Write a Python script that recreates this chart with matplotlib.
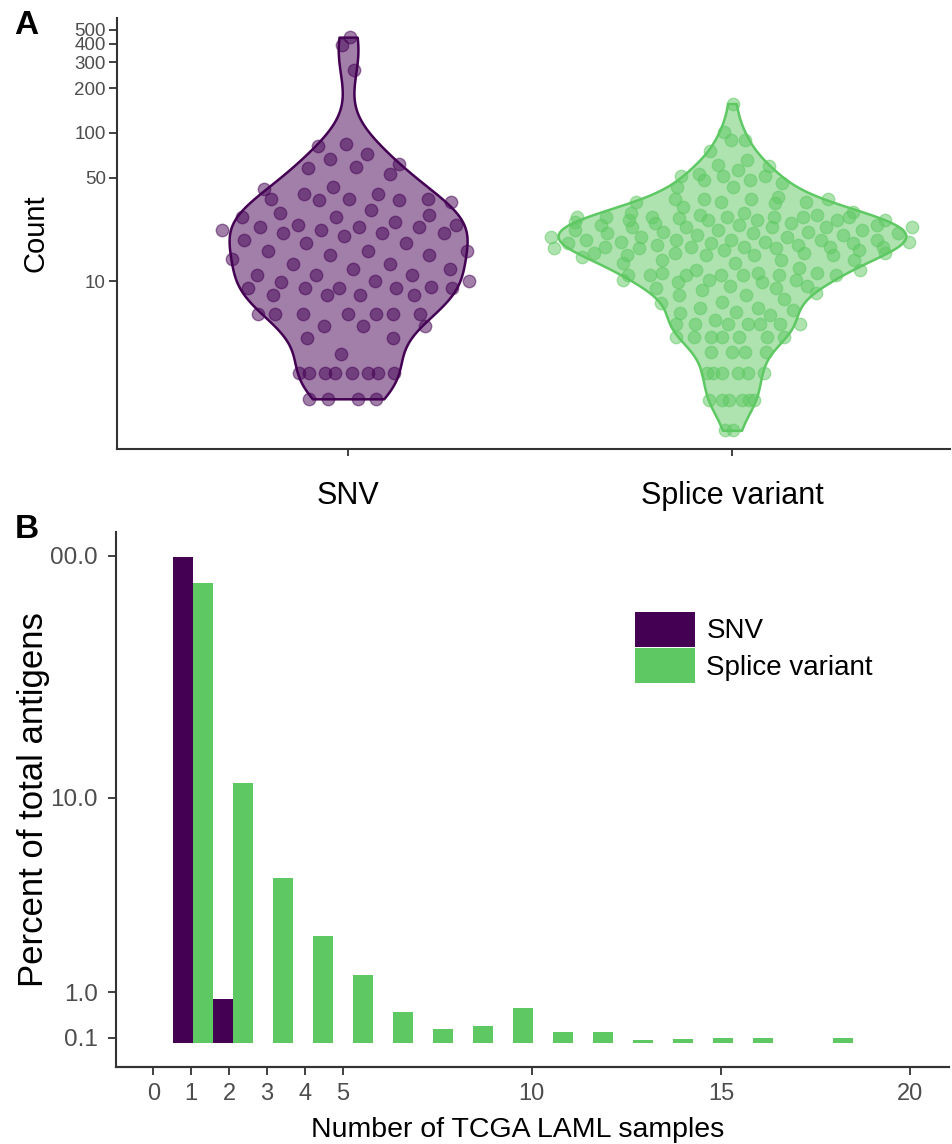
import numpy as np
import matplotlib
matplotlib.use('Agg')
import matplotlib.pyplot as plt
from matplotlib.colors import to_rgba
from matplotlib.patches import Patch
from matplotlib.ticker import NullLocator

plt.rcParams['font.family'] = ['Liberation Sans', 'DejaVu Sans']

# ---- panel A data: antigen counts per variant class
groups = ['SNV', 'Splice variant']
snv_counts = [444, 393, 267, 84, 82, 72, 67, 62, 59, 58, 53, 43, 42,
              39, 39, 36, 36, 36, 35, 35, 34, 30, 29, 28, 27, 27, 25, 24, 24,
              23, 23, 23, 22, 22, 21, 21, 21, 20, 19, 18, 18,
              16, 16, 16, 15, 15, 14, 13, 13, 12, 12,
              11, 11, 11, 10, 10, 9.9, 9.1, 9, 9, 9, 9, 8.9, 8, 8, 8, 8,
              6, 6, 6, 6, 6, 6, 6, 5, 5, 5, 4.1, 4.1, 3.2,
              2.4, 2.4, 2.4, 2.4, 2.4, 2.4, 2.4, 2.4, 1.6, 1.6, 1.6, 1.6]
splice_counts = [158, 102, 90, 90, 76, 66, 61, 60, 56, 53, 51, 51, 51, 48, 48,
                 46, 43, 43, 37, 36, 36, 36, 36, 34, 34, 34, 33.5, 31.8,
                 29.4, 28.7, 28.7, 27.9, 27.9, 27.2, 27.2, 27.2, 27.2, 27.2,
                 27.2, 27, 26.5, 26, 26, 25.8, 25.8, 25.8, 25, 24.5, 24.5,
                 23.9, 23.9, 23.9, 23.3, 23.3, 23.3, 23.3, 23.3, 22.1, 22.1,
                 22, 21.5, 21.5, 21, 21, 21, 20.5, 20.5, 19.9, 19.9, 19.9,
                 19, 18.9, 18.9, 18.9, 18.9, 18.4, 18.4, 18.4, 18, 18, 18,
                 17.5, 17.5, 17.1, 17.1, 17.1, 17.1, 17.1, 16.6, 16.6, 16.6,
                 16.2, 16.2, 15.4, 15.4, 15.4, 15.4, 15, 15, 15, 15, 14.6,
                 13.9, 13.9, 13.9, 13.2, 13.2, 12.2, 11.9, 11.9, 11.3, 11.3,
                 11.3, 11, 11, 11, 11, 11, 11, 11, 10.2, 10.2, 10.2, 9.9, 9.9,
                 9.2, 9.2, 8.9, 8.9, 8.7, 8.3, 8, 8, 7.5, 7.2, 7.1, 6.6, 6.6,
                 6.4, 6.2, 6.05, 5.9, 5.45,
                 5.1, 5.1, 5.1, 5.1, 5.1, 5.1, 5.1,
                 4.2, 4.2, 4.2, 4.2, 4.2, 4.2, 4.2, 3.3, 3.3, 3.3, 3.3,
                 2.38, 2.38, 2.38, 2.38, 2.38, 2.38,
                 1.57, 1.57, 1.57, 1.57, 1.57, 1.57, 0.98, 0.98]
count_ticks = [10, 50, 100, 200, 300, 400, 500]

# ---- panel B data: percent of antigens shared by n TCGA LAML samples
snv_samples = [1, 2]
snv_pct = [98.4, 0.72]
splice_samples = [1, 2, 3, 4, 5, 6, 7, 8, 9, 10, 11, 12, 13, 14, 15, 17]
splice_pct = [77.3, 11.5, 3.88, 1.95, 1.22, 0.365, 0.155, 0.18, 0.46,
              0.135, 0.135, 0.09, 0.094, 0.099, 0.099, 0.099]
pct_ticks = [0.1, 1, 10, 100]
pct_labels = ['0.1', '1.0', '10.0', '00.0']
sample_ticks = [0, 1, 2, 3, 4, 5, 10, 15, 20]

PURPLE = '#440154'
GREEN = '#5ec962'
AXC = '#333333'
TXT = '#4d4d4d'

fig = plt.figure(figsize=(9.53, 11.44), dpi=100)
W, H = 953, 1144


def box(l, t, r, b):
    return [l / W, 1 - b / H, (r - l) / W, (b - t) / H]


def kde(vals, n=512):
    lv = np.log10(np.asarray(vals, float))
    sd = lv.std(ddof=1)
    iqr = np.subtract(*np.percentile(lv, [75, 25]))
    bw = 0.9 * min(sd, iqr / 1.34) * len(lv) ** -0.2
    grid = np.linspace(lv.min(), lv.max(), n)
    d = np.exp(-0.5 * ((grid[:, None] - lv[None, :]) / bw) ** 2).sum(1)
    return grid, d / (len(lv) * bw * np.sqrt(2 * np.pi))


# ================= panel A =================
ax = fig.add_axes(box(117, 18, 950, 449))
data = [snv_counts, splice_counts]
cols = [PURPLE, GREEN]
max_half = [0.31, 0.453]
for i, (vals, c, mh) in enumerate(zip(data, cols, max_half)):
    g, d = kde(vals)
    half = mh * d / d.max()
    ax.fill_betweenx(10 ** g, i - half, i + half, facecolor=to_rgba(c, 0.5),
                     edgecolor=c, lw=1.8, zorder=2)
    # sina-like spread: jitter limited by the violin width at each value
    k = np.arange(1, len(vals) + 1)
    u = ((k * 0.6180339887) % 1) * 2 - 1
    w = np.interp(np.log10(vals), g, half)
    ax.scatter(i + u * w * 1.1, vals, s=80, color=c, alpha=0.5,
               edgecolor=c, lw=1, zorder=3)

ax.set_yscale('log')
ax.set_ylim(0.733, 598)
ax.set_xlim(-0.602, 1.568)
ax.set_yticks(count_ticks)
ax.set_yticklabels([str(t) for t in count_ticks])
ax.yaxis.set_minor_locator(NullLocator())
ax.set_xticks([0, 1])
ax.set_xticklabels(groups, fontsize=22, color='black')
ax.tick_params(axis='y', labelsize=13.5, labelcolor=TXT, length=6, width=1.3,
               color=AXC, pad=2)
ax.tick_params(axis='x', length=5, width=1.3, color=AXC, pad=18)
ax.set_ylabel('Count', fontsize=21)
ax.yaxis.set_label_coords(-0.081, 0.5)
for s in ['top', 'right']:
    ax.spines[s].set_visible(False)
for s in ['left', 'bottom']:
    ax.spines[s].set_color(AXC)
    ax.spines[s].set_linewidth(1.5)

# ================= panel B =================
# y axis: stretched log scale following the reference tick spacing
LOGS = np.array([-1.0, 0.0, 1.0, 2.0])
POS = np.array([0.0, 45.7, 240.3, 482.3])
S_LO = (POS[1] - POS[0]) / (LOGS[1] - LOGS[0])
S_HI = (POS[3] - POS[2]) / (LOGS[3] - LOGS[2])


def fwd(v):
    l = np.log10(np.clip(np.asarray(v, float), 1e-9, None))
    out = np.interp(l, LOGS, POS)
    out = np.where(l < LOGS[0], POS[0] + (l - LOGS[0]) * S_LO, out)
    out = np.where(l > LOGS[-1], POS[-1] + (l - LOGS[-1]) * S_HI, out)
    return out


def inv(p):
    p = np.asarray(p, float)
    l = np.interp(p, POS, LOGS)
    l = np.where(p < POS[0], LOGS[0] + (p - POS[0]) / S_LO, l)
    l = np.where(p > POS[-1], LOGS[-1] + (p - POS[-1]) / S_HI, l)
    return 10 ** l


BAR_BASE = 0.079
K = 40 / 37.85  # bar slots vs. labelled sample axis

bx = fig.add_axes(box(116, 531.7, 949, 1066.7))
bx.set_yscale('function', functions=(fwd, inv))
bx.bar(np.array(snv_samples) - 0.25, np.array(snv_pct) - BAR_BASE,
       bottom=BAR_BASE, width=0.5, color=PURPLE, label='SNV')
bx.bar(np.array(splice_samples) + 0.25, np.array(splice_pct) - BAR_BASE,
       bottom=BAR_BASE, width=0.5, color=GREEN, label='Splice variant')
bx.set_ylim(0.0235, 125.6)
bx.set_xlim(-0.9325, 19.89)
bx.set_yticks(pct_ticks)
bx.set_yticklabels(pct_labels)
bx.yaxis.set_minor_locator(NullLocator())
bx.tick_params(axis='y', labelsize=17.5, labelcolor=TXT, length=6, width=1.3,
               color=AXC, pad=7)
bx.tick_params(axis='x', bottom=False, labelbottom=False)
bx.set_ylabel('Percent of total antigens', fontsize=25)
bx.yaxis.set_label_coords(-0.079, 0.5)
bx.set_xlabel('Number of TCGA LAML samples', fontsize=20.5)
bx.xaxis.set_label_coords((518 - 116) / 833, -0.094)
for s in ['top', 'right']:
    bx.spines[s].set_visible(False)
for s in ['left', 'bottom']:
    bx.spines[s].set_color(AXC)
    bx.spines[s].set_linewidth(1.5)

sx = bx.secondary_xaxis('bottom', functions=(lambda x: x * K, lambda t: t / K))
sx.set_xticks(sample_ticks)
sx.tick_params(axis='x', labelsize=17, labelcolor=TXT, length=6, width=1.3,
               color=AXC, pad=6)
sx.spines['bottom'].set_color(AXC)
sx.spines['bottom'].set_linewidth(1.5)

handles = [Patch(facecolor=PURPLE, edgecolor='none'),
           Patch(facecolor=GREEN, edgecolor='none')]
bx.legend(handles, ['SNV', 'Splice variant'], loc='upper left',
          bbox_to_anchor=((635 - 116) / 833, (1066.7 - 611.7) / 535),
          frameon=False, fontsize=20, handlelength=2.15, handleheight=1.56,
          handletextpad=0.42, labelspacing=0.05, borderpad=0,
          borderaxespad=0)

fig.text(26 / W, 1 - 25 / H, 'A', fontsize=24, fontweight='bold',
         ha='center', va='center')
fig.text(27 / W, 1 - 529 / H, 'B', fontsize=24, fontweight='bold',
         ha='center', va='center')

fig.savefig('out.png', dpi=100)
